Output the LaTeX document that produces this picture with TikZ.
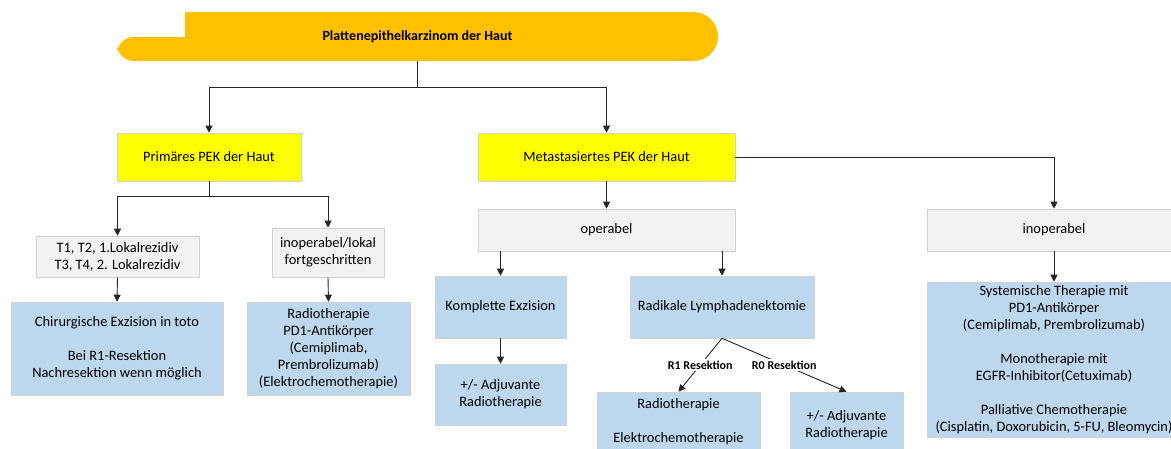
\documentclass[tikz,border=0pt]{standalone}
\usepackage{fontspec}
\setmainfont{Carlito}
\usepackage{xcolor}
\usepackage{tikz}
\usetikzlibrary{arrows.meta}

\definecolor{bannergelb}{HTML}{FFC000}
\definecolor{kastengelb}{HTML}{FFFF00}
\definecolor{kastengrau}{HTML}{F2F2F2}
\definecolor{kastenblau}{HTML}{BDD7EE}

\tikzset{
  kasten/.style={draw=black!18, line width=0.6pt, inner sep=0pt, align=center,
    font=\fontsize{14.4}{17}\selectfont},
  gelb/.style={kasten, fill=kastengelb},
  grau/.style={kasten, fill=kastengrau},
  blau/.style={kasten, fill=kastenblau},
  pfeil/.style={draw=black!85, line width=0.9pt, ->},
  resektion/.style={fill=white, inner sep=2pt, font=\fontsize{12}{14}\selectfont\bfseries}
}

\begin{document}
\begin{tikzpicture}[x=1pt,y=-1pt,>={Triangle[length=7pt,width=7pt]}]
            \useasboundingbox (0,0) rectangle (1171,448);
            \clip (0,0) rectangle (1171,448);

            %%%% banner
            \fill[bannergelb] (185,12) [rounded corners=24.5] -- (718,12) -- (718,61) -- (300,61)
                [rounded corners=17] -- (117,61) -- (117,37) [sharp corners] -- (185,37) -- cycle;
            \node[minimum width=601, minimum height=49, inner sep=0pt,
                  font=\fontsize{14}{17}\selectfont\bfseries] (titel) at (417.5,36.5) {Plattenepithelkarzinom der Haut};

            %%%% ebene 1
            \node[gelb, minimum width=184, minimum height=48] (prim) at (209,157) {Primäres PEK der Haut};
            \node[gelb, minimum width=257, minimum height=48] (meta) at (606.5,157) {Metastasiertes PEK der Haut};

            %%%% primaer
            \node[grau, minimum width=163, minimum height=41] (tstad) at (117.5,256.5) {T1, T2, 1.Lokalrezidiv\\T3, T4, 2. Lokalrezidiv};
            \node[grau, minimum width=112, minimum height=49] (inoplok) at (328,252.5) {inoperabel/lokal\\fortgeschritten};
            \node[blau, minimum width=212, minimum height=93] (chir) at (117,348.5) {Chirurgische Exzision in toto\\[17pt]Bei R1-Resektion\\Nachresektion wenn möglich};
            \node[blau, minimum width=163, minimum height=93] (radioa) at (328.5,348.5) {Radiotherapie\\PD1-Antikörper\\(Cemiplimab,\\Prembrolizumab)\\(Elektrochemotherapie)};

            %%%% metastasiert
            \node[grau, minimum width=257, minimum height=42] (oper) at (606.5,230) {operabel};
            \node[grau, minimum width=254, minimum height=42] (inoper) at (1054,230) {inoperabel};
            \node[blau, minimum width=131, minimum height=62] (kompl) at (500.5,307) {Komplette Exzision};
            \node[blau, minimum width=184, minimum height=62] (lymph) at (722,307) {Radikale Lymphadenektomie};
            \node[blau, minimum width=131, minimum height=61] (adjuva) at (500.5,394.5) {+/- Adjuvante\\Radiotherapie};
            \node[blau, minimum width=163, minimum height=60] (radiob) at (678.5,422) {Radiotherapie\\[17pt]Elektrochemotherapie};
            \node[blau, minimum width=113, minimum height=66] (adjuvb) at (846.5,425) {+/- Adjuvante\\Radiotherapie};
            \node[blau, minimum width=254, minimum height=155] (syst) at (1054,359.5) {Systemische Therapie mit\\PD1-Antikörper\\(Cemiplimab, Prembrolizumab)\\[17pt]Monotherapie mit\\EGFR-Inhibitor(Cetuximab)\\[17pt]Palliative Chemotherapie\\(Cisplatin, Doxorubicin, 5-FU, Bleomycin)};

            %%%% verbindungen
            \draw[pfeil] (titel.south) -- ++(0,26) -| (prim.north);
            \draw[pfeil] (titel.south) -- ++(0,26) -| (meta.north);
            \draw[pfeil] (prim.south) -- ++(0,15) -| (tstad.north);
            \draw[pfeil] (prim.south) -- ++(0,15) -| (inoplok.north);
            \draw[pfeil] (tstad.south) -- (chir.north);
            \draw[pfeil] (inoplok.south) -- (radioa.north);
            \draw[pfeil] (meta.south) -- (oper.north);
            \draw[pfeil] (meta.east) -| (inoper.north);
            \draw[pfeil] (oper.south -| kompl.north) -- (kompl.north);
            \draw[pfeil] (oper.south -| lymph.north) -- (lymph.north);
            \draw[pfeil] (kompl.south) -- (adjuva.north);
            \draw[pfeil] (inoper.south) -- (syst.north);
            \draw[pfeil] (lymph.south) -- node[resektion] (rone) {R1 Resektion} (radiob.north);
            \draw[pfeil] (lymph.south) -- node[resektion] (rnull) {R0 Resektion} (adjuvb.north);
        \end{tikzpicture}
\end{document}
